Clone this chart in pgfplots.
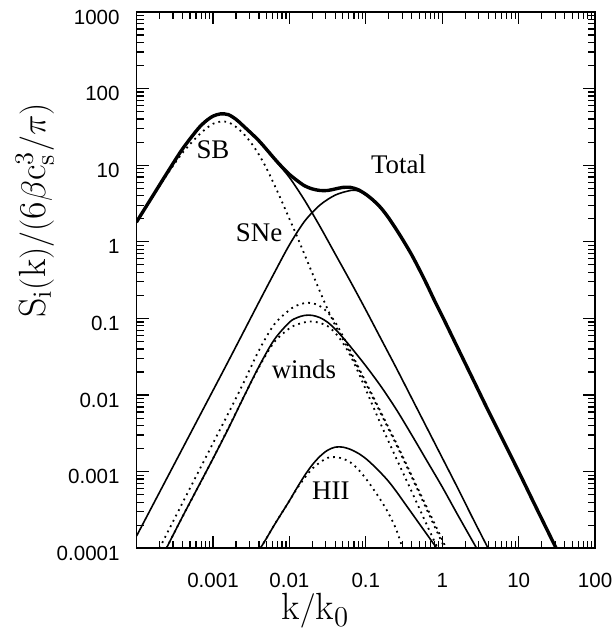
\documentclass[border=0pt]{standalone}
\usepackage{pgfplots}
\pgfplotsset{compat=1.18}
\usepackage{fontspec}
\newfontfamily\sansfont{Liberation Sans}
\newfontfamily\timesfont{Liberation Serif}

\begin{document}
\begin{tikzpicture}
\begin{axis}[
    name=main,
    xmode=log, ymode=log,
    scale only axis,
    width=230pt, height=269pt,
    xmin=1e-4, xmax=100,
    ymin=1e-4, ymax=1000,
    xtick={1e-4,1e-3,0.01,0.1,1,10,100},
    xticklabels={,0.001,0.01,0.1,1,10,100},
    ytick={1e-4,1e-3,0.01,0.1,1,10,100,1000},
    yticklabels={0.0001,0.001,0.01,0.1,1,10,100,1000},
    tick align=inside,
    xtick pos=both, ytick pos=both,
    major tick length=6pt, minor tick length=3.5pt,
    axis line style={line width=0.8pt},
    every tick/.style={black, line width=0.6pt},
    tick label style={font=\sansfont\fontsize{10.3}{12}\selectfont},
    xticklabel style={yshift=-9pt},
    yticklabel style={xshift=-5pt, yshift=-2.5pt},
    xlabel={$\mathrm{k}/\mathrm{k}_0$},
    ylabel={$\mathrm{S_i(k)/(6\beta c_s^3/\pi)}$},
    label style={font=\fontsize{19}{22}\selectfont},
    xlabel style={at={(axis description cs:0.39,-0.133)}, anchor=base},
    ylabel style={at={(axis description cs:-0.222,0.63)}, anchor=center},
    thin line/.style={black, line width=0.8pt, smooth},
    dot line/.style={black, line width=0.9pt, smooth, dash pattern=on 0.9pt off 2.1pt},
]

% Total
\addplot[black, line width=1.7pt, smooth] coordinates {
(1e-4,1.820) (1.585e-4,3.802) (2.512e-4,7.943) (3.981e-4,16.22) (6.310e-4,29.51)
(7.943e-4,37.15) (1e-3,43.65) (1.259e-3,46.77) (1.585e-3,45.71) (1.995e-3,39.81)
(2.512e-3,32.36) (3.981e-3,20.89) (6.310e-3,12.30) (7.943e-3,9.550) (1e-2,7.586)
(1.259e-2,6.310) (1.585e-2,5.370) (1.995e-2,4.898) (2.512e-2,4.677) (3.162e-2,4.677)
(3.981e-2,4.898) (5.012e-2,5.129) (6.310e-2,5.129) (7.943e-2,4.786) (0.1,4.169)
(0.1259,3.467) (0.1585,2.754) (0.1995,2.042) (0.2512,1.445) (0.3162,1.0)
(0.3981,0.6761) (0.5012,0.4365) (0.6310,0.2754) (0.7943,0.1698) (1,0.1072)
(1.585,0.04169) (2.512,0.01622) (3.981,6.310e-3) (6.310,2.512e-3) (10,1e-3)
(15.85,3.890e-4) (31.62,9.550e-5)
};

% SB
\addplot[thin line] coordinates {
(1e-4,1.820) (1.585e-4,3.802) (2.512e-4,7.943) (3.981e-4,16.22) (6.310e-4,29.51)
(7.943e-4,37.15) (1e-3,43.65) (1.259e-3,46.77) (1.585e-3,45.71) (1.995e-3,39.81)
(2.512e-3,32.36) (3.981e-3,20.89) (6.310e-3,12.02) (1e-2,6.918) (1.585e-2,3.467)
(2.512e-2,1.585) (3.981e-2,0.6918) (6.310e-2,0.3020) (0.1,0.1288) (0.1585,0.05370)
(0.2512,0.02239) (0.3981,9.120e-3) (0.6310,3.715e-3) (1,1.514e-3) (1.585,6.166e-4)
(2.512,2.455e-4) (3.981,1e-4)
};

% SB, dotted
\addplot[dot line] coordinates {
(1e-4,1.778) (1.585e-4,3.715) (2.512e-4,7.586) (3.981e-4,14.45) (6.310e-4,23.99)
(7.943e-4,29.51) (1e-3,34.67) (1.259e-3,37.15) (1.585e-3,36.31) (1.995e-3,31.62)
(2.512e-3,25.70) (3.162e-3,19.50) (3.981e-3,13.80) (5.012e-3,9.120) (6.310e-3,5.623)
(7.943e-3,3.388) (1e-2,1.995) (1.259e-2,1.175) (1.585e-2,0.6761) (1.995e-2,0.3890)
(2.512e-2,0.2239) (3.162e-2,0.1318) (3.981e-2,0.08128) (5.012e-2,0.05370) (6.310e-2,0.03467)
(7.943e-2,0.02239) (0.1,0.01413) (0.1585,5.623e-3) (0.2512,2.239e-3) (0.3981,8.511e-4)
(0.6310,3.162e-4) (1,1.175e-4) (1.096,1e-4)
};

% SNe
\addplot[thin line] coordinates {
(1e-4,1.445e-4) (2.512e-4,8.318e-4) (6.310e-4,4.786e-3) (1.585e-3,0.02754) (3.981e-3,0.1622)
(6.310e-3,0.3890) (1e-2,0.9120) (1.585e-2,1.862) (2.512e-2,3.020) (3.981e-2,4.074)
(6.310e-2,4.677) (7.943e-2,4.62) (0.1,4.074) (0.1259,3.388) (0.1585,2.692)
(0.1995,1.995) (0.2512,1.413) (0.3162,0.9772) (0.3981,0.6607) (0.5012,0.4266)
(0.6310,0.2692)
};

% winds
\addplot[thin line] coordinates {
(2.455e-4,1e-4) (3.981e-4,2.570e-4) (6.310e-4,6.166e-4) (1e-3,1.479e-3) (1.585e-3,3.631e-3)
(2.512e-3,9.333e-3) (3.981e-3,0.02344) (6.310e-3,0.05248) (1e-2,0.08913) (1.259e-2,0.1023)
(1.585e-2,0.1096) (1.995e-2,0.1096) (2.512e-2,0.1023) (3.162e-2,0.08913) (3.981e-2,0.07244)
(5.012e-2,0.05623) (6.310e-2,0.04266) (0.1,0.02399) (0.1585,0.01288) (0.2512,6.457e-3)
(0.3981,3.020e-3) (0.6310,1.380e-3) (1,6.310e-4) (1.585,2.754e-4) (2.818,1e-4)
};

% winds, upper dotted
\addplot[dot line] coordinates {
(1.995e-4,1e-4) (3.981e-4,3.890e-4) (6.310e-4,9.550e-4) (1e-3,2.344e-3) (1.585e-3,5.754e-3)
(2.512e-3,0.01445) (3.981e-3,0.03802) (6.310e-3,0.08318) (1e-2,0.1288) (1.259e-2,0.1479)
(1.585e-2,0.1585) (1.995e-2,0.1585) (2.512e-2,0.1445) (3.162e-2,0.1202) (3.981e-2,0.08913)
(5.012e-2,0.05888) (6.310e-2,0.03715) (7.943e-2,0.02344) (0.1,0.01479) (0.1585,5.888e-3)
(0.2512,2.344e-3) (0.3981,8.913e-4) (0.6310,3.388e-4) (1,1.288e-4) (1.122,1e-4)
};

% winds, lower dotted
\addplot[dot line] coordinates {
(2.455e-4,1e-4) (3.981e-4,2.570e-4) (1e-3,1.479e-3) (2.512e-3,9.333e-3) (3.981e-3,0.02291)
(6.310e-3,0.04898) (1e-2,0.07413) (1.259e-2,0.08318) (1.585e-2,0.08913) (1.995e-2,0.09120)
(2.512e-2,0.08710) (3.162e-2,0.07943) (3.981e-2,0.06457) (5.012e-2,0.04786) (6.310e-2,0.03236)
(7.943e-2,0.01995) (0.1,0.01175) (0.1259,6.918e-3) (0.1585,4.074e-3) (0.2512,1.479e-3)
(0.3981,5.495e-4) (0.6310,1.995e-4) (0.8710,1e-4)
};

% HII
\addplot[thin line] coordinates {
(4.169e-3,1e-4) (5.012e-3,1.349e-4) (6.310e-3,1.995e-4) (7.943e-3,2.884e-4) (1e-2,4.169e-4)
(1.259e-2,6.166e-4) (1.585e-2,8.913e-4) (1.995e-2,1.230e-3) (2.512e-2,1.585e-3) (3.162e-2,1.905e-3)
(3.981e-2,2.089e-3) (5.012e-2,2.089e-3) (6.310e-2,1.950e-3) (7.943e-2,1.738e-3) (0.1,1.479e-3)
(0.1259,1.202e-3) (0.1585,9.550e-4) (0.1995,7.413e-4) (0.2512,5.495e-4) (0.3162,3.981e-4)
(0.3981,2.884e-4) (0.5012,2.089e-4) (0.6310,1.514e-4) (0.7943,1.096e-4) (0.8511,1e-4)
};

% HII, dotted
\addplot[dot line] coordinates {
(4.169e-3,1e-4) (5.012e-3,1.349e-4) (6.310e-3,1.995e-4) (7.943e-3,2.884e-4) (1e-2,4.169e-4)
(1.259e-2,6.026e-4) (1.585e-2,8.318e-4) (1.995e-2,1.096e-3) (2.512e-2,1.318e-3) (3.162e-2,1.514e-3)
(3.981e-2,1.549e-3) (5.012e-2,1.479e-3) (6.310e-2,1.318e-3) (7.943e-2,1.072e-3) (0.1,8.128e-4)
(0.1259,5.888e-4) (0.1585,4.169e-4) (0.1995,2.818e-4) (0.2512,1.738e-4) (0.3020,1e-4)
};

\begin{scope}[font=\timesfont\fontsize{13.5}{15}\selectfont]
\node at (axis cs:1e-3,15.8) {SB};
\node at (axis cs:0.268,10.2) {Total};
\node at (axis cs:4.02e-3,1.32) {SNe};
\node at (axis cs:0.0155,0.0219) {winds};
\node at (axis cs:0.0348,5.62e-4) {HII};
\end{scope}
\end{axis}
\pgfresetboundingbox
\path ([xshift=-68.5pt,yshift=-41pt]main.south west)
  rectangle ([xshift=10pt,yshift=6pt]main.north east);
\end{tikzpicture}
\end{document}
